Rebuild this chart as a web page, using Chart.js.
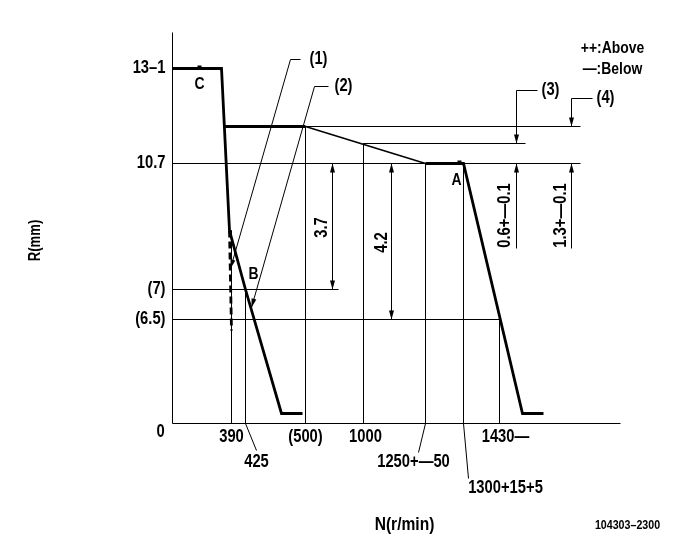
<!DOCTYPE html>
<html>
<head>
<meta charset="utf-8">
<script src="https://cdn.jsdelivr.net/npm/chart.js@4.4.0/dist/chart.umd.min.js"></script>
<style>
  html, body { margin: 0; padding: 0; background: #fff; }
  canvas { display: block; }
</style>
</head>
<body>
<canvas id="gov-chart" width="681" height="549"></canvas>
<script>
// schematic units: origin at axis corner, 1 unit ~ 1 px, R upward
const rLabels = ['0', '(6.5)', '(7)', '10.7', '13\u20131'];
const rPos = [0, 104, 134, 260, 355];
const nLabels = ['390', '425', '(500)', '1000', '1250+\u201450', '1300+15+5', '1430\u2014'];
const nPos = [59, 73, 133, 191, 253, 291, 327];

// governor curve (thick)
const idleX = [0, 49, 57, 73, 109, 130];
const idleY = [355, 355, 193, 134, 10, 10];
const fullLoadX = [51, 133];
const fullLoadY = [297, 297];
const angleX = [133, 253];
const angleY = [297, 260];
const ratedX = [253, 291, 350, 371];
const ratedY = [260, 260, 10, 10];
const dashX = [57, 59];
const dashY = [193, 93];

// thin reference lines [x1, y1, x2, y2]
const refLines = [
  [0, 0, 0, 391], [0, 0, 448, 0],
  [59, 193, 59, 0], [73, 134, 73, 0], [133, 297, 133, 0], [191, 280, 191, 0],
  [253, 260, 253, 0], [291, 260, 291, 0], [327, 104, 327, 0],
  [133, 297, 408, 297], [191, 280, 353, 280], [0, 260, 408, 260],
  [0, 134, 166, 134], [0, 104, 328, 104],
  [73, 0, 84, -27], [253, 0, 246, -29], [291, 0, 296, -55],
  [118, 364, 128, 364], [142, 337, 156, 337],
  [344, 333, 365, 333], [399, 325, 420, 325],
  [344, 175, 344, 260], [344, 280, 344, 333],
  [399, 175, 399, 260], [399, 297, 399, 325]
];
// lines ending in an arrow head [x1, y1, x2, y2] (head at x2,y2)
const arrowLines = [
  [160, 197, 160, 260], [160, 197, 160, 134],
  [219, 182, 219, 260], [219, 182, 219, 104],
  [344, 240, 344, 260], [344, 300, 344, 280],
  [399, 240, 399, 260], [399, 317, 399, 297],
  [118, 364, 58, 155], [142, 337, 79, 116]
];

// text [label, x, y, align, size, rotate]
const texts = [
  ['++:Above', 440, 375, 'center', 17, 0],
  ['\u2014:Below', 440, 354, 'center', 17, 0],
  ['C', 27, 339, 'center', 17, 0],
  ['B', 81, 149, 'center', 17, 0],
  ['A', 284, 243, 'center', 17, 0],
  ['(1)', 146, 364, 'center', 18, 0],
  ['(2)', 171, 337, 'center', 18, 0],
  ['(3)', 378, 333, 'center', 18, 0],
  ['(4)', 433, 325, 'center', 18, 0],
  ['3.7', 150, 196, 'center', 18, -90],
  ['4.2', 210, 181, 'center', 18, -90],
  ['0.6+\u20140.1', 333, 208, 'center', 18, -90],
  ['1.3+\u20140.1', 389, 208, 'center', 18, -90],
  ['R(mm)', -137, 183, 'center', 16, -90],
  ['N(r/min)', 232, -101, 'center', 19, 0],
  ['104303\u20132300', 455, -102, 'center', 13, 0]
];
const nLabelY = [-14, -39, -14, -14, -39, -65, -14];
const nLabelX = [59, 84, 133, 193, 241, 333, 333];

const FONT = '"Liberation Sans", Arial, sans-serif';
const SQUEEZE = 0.82;

const lineSet = (xs, ys, width, dash) => ({
  data: xs.map((x, i) => ({ x: x, y: ys[i] })),
  showLine: true,
  borderColor: '#000',
  borderWidth: width,
  borderDash: dash || [],
  pointRadius: 0,
  fill: false
});

const datasets = [];
refLines.forEach(l => datasets.push(lineSet([l[0], l[2]], [l[1], l[3]], 1)));
arrowLines.forEach(l => datasets.push(lineSet([l[0], l[2]], [l[1], l[3]], 1)));
datasets.push(lineSet(angleX, angleY, 1.6));
datasets.push(lineSet(idleX, idleY, 2.8));
datasets.push(lineSet(fullLoadX, fullLoadY, 2.8));
datasets.push(lineSet(ratedX, ratedY, 2.8));
datasets.push(lineSet(dashX, dashY, 2.8, [7, 4]));

const drawText = (ctx, lab, x, y, align, size, rot) => {
  ctx.save();
  ctx.font = 'bold ' + size + 'px ' + FONT;
  ctx.textAlign = align;
  ctx.textBaseline = 'middle';
  ctx.translate(x, y);
  if (rot) ctx.rotate(rot * Math.PI / 180);
  ctx.scale(SQUEEZE, 1);
  ctx.fillText(lab, 0, 0);
  ctx.restore();
};

const annotate = {
  id: 'annotate',
  afterDatasetsDraw(chart) {
    const ctx = chart.ctx;
    const sx = v => chart.scales.x.getPixelForValue(v);
    const sy = v => chart.scales.y.getPixelForValue(v);
    ctx.save();
    ctx.fillStyle = '#000';

    // arrow heads
    arrowLines.forEach(l => {
      const x1 = sx(l[0]), y1 = sy(l[1]), x2 = sx(l[2]), y2 = sy(l[3]);
      const a = Math.atan2(y2 - y1, x2 - x1);
      ctx.beginPath();
      ctx.moveTo(x2, y2);
      ctx.lineTo(x2 - 9 * Math.cos(a) + 2.5 * Math.sin(a), y2 - 9 * Math.sin(a) - 2.5 * Math.cos(a));
      ctx.lineTo(x2 - 9 * Math.cos(a) - 2.5 * Math.sin(a), y2 - 9 * Math.sin(a) + 2.5 * Math.cos(a));
      ctx.closePath();
      ctx.fill();
    });

    // small dots at C and A
    [[27, 355], [287, 260]].forEach(p => {
      ctx.fillRect(sx(p[0]) - 2, sy(p[1]) - 3, 4, 4);
    });

    // R tick labels
    rLabels.forEach((lab, i) => {
      if (i === 0) drawText(ctx, lab, sx(-12), sy(-9), 'center', 18, 0);
      else drawText(ctx, lab, sx(-7), sy(rPos[i]), 'right', 18, 0);
    });
    // N tick labels
    nLabels.forEach((lab, i) => {
      drawText(ctx, lab, sx(nLabelX[i]), sy(nLabelY[i]), 'center', 18, 0);
    });

    texts.forEach(t => drawText(ctx, t[0], sx(t[1]), sy(t[2]), t[3], t[4], t[5]));
    ctx.restore();
  }
};

new Chart(document.getElementById('gov-chart'), {
  type: 'scatter',
  data: { datasets: datasets },
  options: {
    responsive: false,
    animation: false,
    layout: { padding: 0 },
    plugins: { legend: { display: false }, tooltip: { enabled: false } },
    scales: {
      // half-unit offsets keep 1px lines on pixel centres
      x: { type: 'linear', min: -172.5, max: 508.5, display: false },
      y: { type: 'linear', min: -125.5, max: 423.5, display: false }
    }
  },
  plugins: [annotate]
});
</script>
</body>
</html>
